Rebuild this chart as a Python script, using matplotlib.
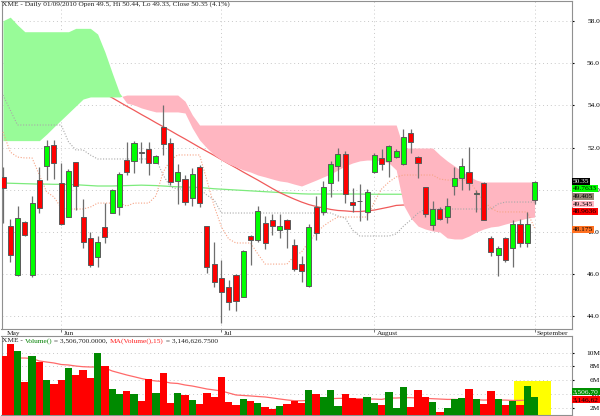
import matplotlib
matplotlib.use('Agg')
import matplotlib.pyplot as plt
from matplotlib.patches import Rectangle
import numpy as np

# ---------------- data ----------------
opens = [50.59, 48.30, 45.96, 48.46, 45.96, 50.45, 51.14, 52.11, 50.32, 48.73,
         51.30, 48.70, 47.72, 46.80, 48.25, 48.92, 49.17, 51.41, 51.38, 51.81,
         51.92, 51.28, 52.99, 52.20, 50.43, 50.50, 49.60, 51.07, 48.28, 46.48,
         45.81, 45.38, 45.96, 44.93, 47.81, 47.62, 48.44, 48.57, 48.09, 48.57,
         47.38, 46.48, 45.44, 49.17, 48.96, 50.34, 51.13, 51.68, 49.42, 49.48,
         48.95, 50.86, 51.49, 51.38, 51.54, 51.22, 52.71, 51.57, 50.12, 48.33,
         49.10, 48.70, 50.18, 50.55, 50.86, 49.82, 50.31, 47.73, 46.91, 47.73,
         47.23, 48.36, 47.46, 49.50]
highs = [51.10, 48.62, 49.23, 48.50, 49.71, 51.10, 52.36, 52.36, 51.26, 50.97,
         51.30, 49.56, 48.01, 47.81, 49.39, 50.05, 50.86, 52.28, 52.33, 52.28,
         52.28, 51.65, 54.02, 52.47, 51.22, 50.70, 51.02, 51.18, 48.30, 47.54,
         46.67, 45.73, 46.00, 47.15, 47.85, 49.23, 48.76, 48.85, 48.85, 48.60,
         47.65, 46.86, 48.38, 49.71, 50.42, 51.38, 51.97, 51.85, 50.10, 50.27,
         50.02, 51.76, 51.92, 52.14, 51.92, 52.87, 52.87, 51.60, 50.15, 49.48,
         49.20, 49.63, 51.10, 51.49, 52.01, 49.99, 50.35, 47.81, 47.34, 47.75,
         48.57, 48.60, 48.96, 50.44]
lows = [48.44, 46.59, 45.92, 47.80, 45.85, 48.89, 50.46, 50.50, 48.33, 48.70,
        49.04, 47.23, 46.36, 46.33, 47.50, 48.90, 48.81, 50.70, 50.81, 51.28,
        50.70, 51.25, 51.65, 50.23, 49.33, 49.28, 49.23, 49.20, 46.04, 45.41,
        43.70, 44.30, 44.27, 44.90, 46.44, 47.54, 47.20, 47.86, 47.70, 47.23,
        46.17, 45.64, 45.41, 47.62, 48.81, 49.64, 50.42, 49.39, 48.96, 48.54,
        48.57, 50.78, 50.94, 50.62, 51.50, 51.18, 51.76, 50.55, 48.70, 48.09,
        48.55, 48.41, 49.75, 49.99, 49.99, 48.96, 48.55, 46.86, 45.92, 46.56,
        46.33, 47.30, 47.30, 49.33]
closes = [50.10, 46.91, 48.65, 47.86, 49.36, 49.15, 52.08, 51.28, 48.38, 50.91,
          50.19, 47.51, 46.45, 47.51, 47.75, 49.99, 50.75, 50.86, 52.20, 51.73,
          51.26, 51.60, 52.16, 50.38, 50.83, 49.44, 50.73, 49.39, 46.33, 45.64,
          45.17, 44.70, 44.74, 47.10, 47.62, 49.00, 47.46, 48.28, 48.30, 48.14,
          46.23, 46.17, 48.22, 47.97, 50.12, 51.22, 51.68, 49.79, 49.28, 49.46,
          49.90, 51.65, 51.22, 52.08, 51.82, 52.52, 52.25, 51.28, 48.85, 49.08,
          48.60, 49.23, 50.57, 51.13, 50.31, 49.85, 48.57, 47.07, 47.23, 46.67,
          48.38, 47.46, 48.36, 50.35]
# volume in millions
volumes = [9.49, 11.19, 10.22, 5.72, 9.49, 8.62, 6.01, 5.43, 6.01, 7.71,
           6.74, 7.46, 6.35, 9.97, 8.04, 4.71, 3.99, 4.46, 3.94, 3.01,
           6.11, 4.09, 6.99, 2.64, 4.09, 3.80, 3.12, 2.54, 4.17, 3.51,
           6.45, 2.78, 2.39, 3.22, 3.01, 2.64, 2.06, 1.86, 2.25, 2.54,
           3.01, 2.64, 4.57, 3.99, 3.60, 4.57, 2.25, 3.94, 3.45, 3.26,
           3.51, 2.64, 2.39, 4.32, 1.91, 4.96, 2.06, 4.57, 3.51, 2.87,
           1.42, 2.00, 3.26, 3.45, 4.67, 3.26, 2.49, 4.46, 3.22, 2.39,
           3.01, 2.39, 5.14, 3.51]
vol_ma = [9.3, 9.25, 9.2, 9.2, 9.13, 8.77, 8.62, 8.48, 8.26, 8.19, 8.04, 7.94, 7.9, 7.9,
          7.75, 7.32, 7.03, 6.74, 6.49, 6.23, 6.01, 5.87, 5.8, 5.58, 5.51, 5.29, 5.14, 4.93,
          4.71, 4.57, 4.42, 4.13, 3.84, 3.77, 3.7, 3.62, 3.55, 3.41, 3.26, 3.12, 3.01,
          3.0, 3.05, 3.1, 3.2, 3.3, 3.35, 3.35, 3.3, 3.3, 3.25, 3.25, 3.2,
          3.4, 3.4, 3.45, 3.45, 3.4, 3.35,
          3.3, 3.25, 3.2, 3.2, 3.15, 3.15, 3.15, 3.1,
          3.12, 3.1, 3.1, 3.05, 3.05, 3.1, 3.15]
span_a = [58.01, 58.18, 57.81, 57.49, 57.49, 57.49, 57.49, 57.49, 57.49, 57.49,
          57.65, 57.65, 57.65, 57.38, 56.53, 55.54, 54.59, 54.11, 54.02, 53.88,
          53.78, 53.69, 53.69, 53.69, 53.69, 53.64, 52.93, 52.36, 51.98, 51.65,
          51.41, 51.22, 51.08, 50.94, 50.84, 50.70, 50.61, 50.51, 50.42, 50.37,
          50.27, 50.18, 50.32, 50.46, 50.61, 50.75, 50.94, 51.13, 51.27, 51.37,
          51.41, 51.41, 51.37, 51.27, 50.94, 49.28, 48.66, 48.28, 48.14, 48.05,
          48.00, 47.72, 47.67, 47.67, 47.81, 48.00, 48.14, 48.24, 48.28, 48.38,
          48.47, 48.57, 48.66, 48.71]
span_b = ([52.33] * 6 + [52.64, 52.98, 53.31, 53.64, 53.97, 54.30] + [54.40] * 5
          + [54.49] * 8 + [54.20, 53.55] + [53.07] * 28 + [51.98] * 5
          + [51.65, 51.37, 51.13, 50.89, 50.65, 50.46] + [50.37] * 8)
ma_green = [50.32, 50.31, 50.30, 50.29, 50.28, 50.27, 50.27, 50.26, 50.26, 50.25,
            50.24, 50.22, 50.20, 50.18, 50.18, 50.18, 50.19, 50.20, 50.21, 50.22,
            50.21, 50.20, 50.18, 50.16, 50.14, 50.13, 50.12, 50.11, 50.08, 50.05,
            50.03, 50.01, 49.99, 49.97, 49.95, 49.93, 49.91, 49.89, 49.87, 49.85,
            49.83, 49.81, 49.80, 49.80, 49.80, 49.80, 49.80, 49.80, 49.80, 49.80,
            49.79, 49.79, 49.79, 49.79, 49.79, 49.79, 49.79, 49.79, 49.78, 49.78,
            49.78, 49.78, 49.78, 49.78, 49.77, 49.77, 49.77, 49.77, 49.77, 49.77,
            49.77, 49.76, 49.76, 49.76]
ma_red = ([np.nan] * 14 +
          [54.55, 54.36, 54.16, 53.96, 53.77, 53.57, 53.38, 53.18, 52.99, 52.80,
           52.60, 52.41, 52.21, 52.01, 51.82, 51.63, 51.43, 51.23, 51.04, 50.84,
           50.65, 50.46, 50.26, 50.06, 49.87, 49.71, 49.56, 49.42, 49.30, 49.21,
           49.14, 49.07, 49.02, 49.00, 48.97, 48.97, 49.00, 49.04, 49.11, 49.18,
           49.26, 49.28, 49.27, 49.25, 49.23, 49.21, 49.19, 49.17, 49.15, 49.13,
           49.11, 49.09, 49.07, 49.05, 49.03, 49.01, 49.00, 48.99, 48.98, 48.96])
kijun = ([54.49, 53.78] + [53.07] * 7 + [52.27, 51.89, 51.89, 51.65] + [51.46] * 9
         + [50.70, 50.13] + [50.04] * 4 + [49.75, 49.52] + [48.90] * 16
         + [48.76, 48.66, 48.09] + [47.81] * 5 + [47.91, 48.28, 48.57, 48.90]
         + [49.09] * 10 + [49.33] + [49.42] * 5)
tenkan = ([52.74, 51.79, 51.55, 51.51, 51.51, 50.70, 49.90, 49.66, 49.14] + [49.09] * 3
          + [49.18] + [49.37] * 4 + [49.23] + [49.37] * 3 + [49.71, 50.84, 51.41]
          + [51.65] * 4 + [50.46, 49.23, 48.24, 47.67] + [47.48] * 3 + [46.96]
          + [46.48] * 4 + [46.86, 47.05, 47.53, 47.95, 48.28, 48.52] + [48.71] * 5
          + [49.42, 50.04, 50.37, 50.61] + [50.70] * 5 + [50.51] + [50.46] * 4
          + [49.94, 49.47, 49.14] + [48.95] * 5 + [48.19])

month_labels = ['May', 'Jun', 'Jul', 'August', 'September']
month_pos = [0, 8, 30, 51, 73]
price_ticks = [44, 46, 48, 50, 52, 54, 56, 58]
vol_ticks = [2, 4, 6, 8, 10]
title = "XME - Daily 01/09/2010 Open 49.5, Hi 50.44, Lo 49.33, Close 50.35 (4.1%)"
last_labels = [("50.35", '#000000', 'white'), ("49.7633", '#00FF00', 'black'),
               ("49.405", '#948474', 'black'), ("49.345", '#FFB6C1', 'black'),
               ("48.9636", '#FF0000', 'black'), ("48.175", '#FF7020', 'black')]
# value boxes of the volume panel, as far as they show inside the picture
vol_labels = [("3,506,70", '#009000', 'white'), ("3,146,62", '#FF0000', 'black')]

# ---------------- figure ----------------
W, H = 600, 416
SERIF = ['Liberation Serif', 'DejaVu Serif']
plt.rcParams['font.family'] = SERIF
FS = 5.3
fig = plt.figure(figsize=(W / 100, H / 100), dpi=100)

def rect(x0, y0, x1, y1):
    return [x0 / W, 1 - y1 / H, (x1 - x0) / W, (y1 - y0) / H]

ax = fig.add_axes(rect(1.5, 0.7, 571.7, 329.3))
axv = fig.add_axes(rect(1.5, 336.3, 571.7, 414.5))

n = len(closes)
x = np.arange(n)
o = np.array(opens); c = np.array(closes); h = np.array(highs); l = np.array(lows)
up = c >= o
XL = (-0.2, 78.1)

# grid
for yv in price_ticks:
    ax.axhline(yv, color='#C8C8C8', lw=0.7, ls=(0, (1, 3)), zorder=0)
for xv in month_pos[1:]:
    ax.axvline(xv, color='#C8C8C8', lw=0.7, ls=(0, (1, 3)), zorder=0)

# moving averages (below the cloud)
ax.plot(x, ma_green, color='#7CEB7C', lw=0.9, zorder=1)
ax.plot(x, ma_red, color='#F05A5A', lw=0.9, zorder=1)

# Ichimoku cloud
A = np.array(span_a); B = np.array(span_b)
ax.fill_between(x, A, B, where=A >= B, interpolate=True, color='#98FB98', lw=0, zorder=2)
ax.fill_between(x, A, B, where=A < B, interpolate=True, color='#FFB6C1', lw=0, zorder=2)

# dotted lines
ax.plot(x, kijun, color='#A8A8A8', lw=0.8, ls=(0, (1, 1.5)), zorder=3)
ax.plot(x, tenkan, color='#F6A385', lw=0.8, ls=(0, (1, 1.5)), zorder=3)

# candles
ax.vlines(x, l, h, color='#6E6E6E', lw=0.9, zorder=4)
bottoms = np.minimum(o, c)
heights = np.maximum(np.abs(c - o), 0.02)
ax.bar(x, heights, bottom=bottoms, width=0.7,
       color=np.where(up, '#00FF00', '#FF0000'), edgecolor='#5A5A5A', lw=0.7, zorder=5)

ax.set_xlim(*XL)
ax.set_ylim(43.39, 58.96)
ax.yaxis.tick_right()
ax.set_yticks(price_ticks)
ax.set_yticklabels([f"{t:.1f}" for t in price_ticks])
ax.tick_params(axis='y', length=1.5, pad=18.8, labelsize=FS, colors='black')
for lab in ax.get_yticklabels():
    lab.set_horizontalalignment('right')
ax.set_xticks(month_pos[1:])
ax.set_xticklabels([])
ax.tick_params(axis='x', length=2.5, width=0.6, color='#606060', direction='out')
for sp in ax.spines.values():
    sp.set_color('#909090'); sp.set_linewidth(0.8)

for lab, pos in zip(month_labels, month_pos):
    ax.annotate(lab, xy=(pos, 0), xycoords=('data', 'axes fraction'),
                xytext=(1.6 if pos else 2.5, -3.0), textcoords='offset points',
                ha='left', va='center', fontsize=FS, color='#202020')

fig.text(2 / W, 1 - 4.6 / H, title, fontsize=FS, va='center', ha='left', color='#202020')

# ---------------- volume ----------------
for yv in vol_ticks:
    axv.axhline(yv, color='#C8C8C8', lw=0.7, ls=(0, (1, 3)), zorder=0)
axv.add_patch(Rectangle((70.2, 0), 5.1, 5.91, color='#FFFF00', lw=0, zorder=1))
axv.plot(x, vol_ma, color='#FF6A6A', lw=0.9, zorder=2)
axv.bar(x, volumes, width=1.0, color=np.where(up, '#008A00', '#FF0000'), lw=0, zorder=3)
axv.set_xlim(*XL)
axv.set_ylim(1.01, 12.35)
axv.set_xticks([])
axv.yaxis.tick_right()
axv.set_yticks(vol_ticks)
axv.set_yticklabels([f"{t}M" for t in vol_ticks])
axv.tick_params(axis='y', length=1.5, pad=18.8, labelsize=FS, colors='black')
for lab in axv.get_yticklabels():
    lab.set_horizontalalignment('right')
for sp in axv.spines.values():
    sp.set_color('#909090'); sp.set_linewidth(0.8)

t1 = fig.text(2 / W, 1 - 340.8 / H, "XME - ", fontsize=FS, va='center', ha='left', color='#202020')
fig.canvas.draw()
r = fig.canvas.get_renderer()
xx = t1.get_window_extent(r).x1
parts = [("Volume()", '#008000'), (" = 3,506,700.0000, ", '#202020'),
         ("MA(Volume(),15)", '#FF2020'), (" = 3,146,626.7500", '#202020')]
for txt, col in parts:
    t = fig.text(xx / W, 1 - 340.8 / H, txt, fontsize=FS, va='center', ha='left', color=col)
    xx = t.get_window_extent(r).x1

# right-side value boxes
for (txt, fc, tc), ypx in zip(last_labels, [181.5, 188.6, 196.4, 204.0, 211.8, 229.5]):
    fig.text(573 / W, 1 - ypx / H, txt, fontsize=FS, va='center', ha='left', color=tc,
             bbox=dict(boxstyle='square,pad=0.12', fc=fc, ec='none'), zorder=10)
for (txt, fc, tc), ypx in zip(vol_labels, [391.6, 399.6]):
    fig.text(573 / W, 1 - ypx / H, txt, fontsize=FS, va='center', ha='left', color=tc,
             bbox=dict(boxstyle='square,pad=0.12', fc=fc, ec='none'), zorder=10)

fig.savefig('out.png', dpi=100)
